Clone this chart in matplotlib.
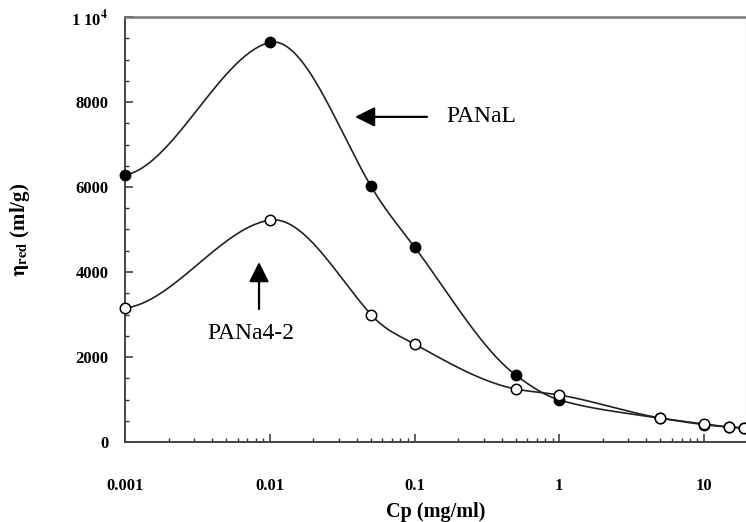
import numpy as np
import matplotlib
matplotlib.use("Agg")
import matplotlib.pyplot as plt
from matplotlib.ticker import FixedLocator, FixedFormatter, LogLocator, NullFormatter, MultipleLocator

# concentration (mg/ml)
cp = [0.001, 0.01, 0.05, 0.1, 0.5, 1, 5, 10, 15, 19]
# reduced viscosity (ml/g)
panal = [6280, 9400, 6020, 4590, 1576, 990, 560, 410, 350, 330]
pana42 = [3150, 5220, 3000, 2306, 1247, 1106, 565, 424, 353, 330]

y_ticks = [0, 2000, 4000, 6000, 8000, 10000]
y_labels = ["0", "2000", "4000", "6000", "8000", r"1 10$^{\mathbf{4}}$"]
x_ticks = [0.001, 0.01, 0.1, 1, 10]
x_labels = ["0.001", "0.01", "0.1", "1", "10"]

plt.rcParams["font.family"] = ["Liberation Serif", "DejaVu Serif"]
plt.rcParams["mathtext.fontset"] = "stix"


def smooth(x, y, n=60):
    # cubic hermite curve in log-x space through the points
    lx = np.log10(np.asarray(x, float))
    y = np.asarray(y, float)
    h = np.diff(lx)
    d = np.diff(y) / h
    m = np.zeros_like(y)
    peak = None
    for i in range(1, len(y) - 1):
        if d[i - 1] * d[i] > 0:
            w1 = 2 * h[i] + h[i - 1]
            w2 = h[i] + 2 * h[i - 1]
            m[i] = (w1 + w2) / (w1 / d[i - 1] + w2 / d[i])
        else:
            m[i] = 0.25 * d[i - 1]
            peak = i
    if peak is not None:
        # slightly steeper shoulder just after the hump
        m[peak + 1] = 1.2 * d[peak]
    m[0] = 0.2 * d[0]
    m[-1] = d[-1]
    xs, ys = [], []
    for i in range(len(h)):
        t = np.linspace(0, 1, n)
        h00 = 2 * t**3 - 3 * t**2 + 1
        h10 = t**3 - 2 * t**2 + t
        h01 = -2 * t**3 + 3 * t**2
        h11 = t**3 - t**2
        xs.append(lx[i] + t * h[i])
        ys.append(h00 * y[i] + h10 * h[i] * m[i] + h01 * y[i + 1] + h11 * h[i] * m[i + 1])
    return 10 ** np.concatenate(xs), np.concatenate(ys)


fig = plt.figure(figsize=(7.46, 5.22), dpi=100)
ax = fig.add_axes([125 / 746, 80 / 522, (746 - 125) / 746, (442 - 17) / 522])

line_c = "#222222"
sx, sy = smooth(cp, panal)
ax.plot(sx, sy, color=line_c, lw=1.2, zorder=2)
sx, sy = smooth(cp, pana42)
ax.plot(sx, sy, color=line_c, lw=1.2, zorder=2)

ax.plot(cp, panal, "o", ms=7.5, mfc="black", mec="black", zorder=3, clip_on=False)
ax.plot(cp, pana42, "o", ms=7.5, mfc="white", mec="black", mew=1.1, zorder=4, clip_on=False)

ax.set_xscale("log")
ax.set_xlim(0.001, 10 ** ((746 - 125) / 144.75 - 3))
ax.set_ylim(0, 10000)

ax.xaxis.set_major_locator(FixedLocator(x_ticks))
ax.xaxis.set_major_formatter(FixedFormatter(x_labels))
ax.xaxis.set_minor_locator(LogLocator(base=10, subs=np.arange(2, 10)))
ax.xaxis.set_minor_formatter(NullFormatter())
ax.yaxis.set_major_locator(FixedLocator(y_ticks))
ax.yaxis.set_major_formatter(FixedFormatter(y_labels))
ax.yaxis.set_minor_locator(MultipleLocator(500))

ax.tick_params(axis="x", which="major", direction="in", length=6, width=1.1, pad=26,
               labelsize=12, colors="#333333", labelcolor="black")
ax.tick_params(axis="x", which="minor", direction="in", length=3, width=1.0, colors="#333333")
ax.tick_params(axis="y", which="major", direction="in", length=6, width=1.1, pad=12,
               labelsize=12, colors="#333333", labelcolor="black")
ax.tick_params(axis="y", which="minor", direction="in", length=3, width=1.0, colors="#333333")
for lab in ax.get_xticklabels() + ax.get_yticklabels():
    lab.set_fontweight("bold")

for side in ["left", "bottom"]:
    ax.spines[side].set_color("#444444")
    ax.spines[side].set_linewidth(1.4)
ax.spines["top"].set_color("#777777")
ax.spines["top"].set_linewidth(1.8)
ax.spines["right"].set_color("#cccccc")
ax.spines["right"].set_linewidth(1.0)

ax.set_xlabel("Cp (mg/ml)", fontsize=14.5, fontweight="bold", labelpad=6)
ax.set_ylabel(r"$\mathbf{\eta}_{\mathbf{red}}$ (ml/g)", fontsize=15, fontweight="bold", labelpad=28)

arrow = dict(arrowstyle="-|>,head_length=0.6,head_width=0.3", color="black", lw=1.6,
             mutation_scale=20, shrinkA=0, shrinkB=0)
ax.annotate("", xy=(0.0388, 7650), xytext=(0.122, 7650), arrowprops=arrow)
ax.text(0.165, 7650, "PANaL", fontsize=17, ha="left", va="center")
ax.annotate("", xy=(0.00843, 4235), xytext=(0.00843, 3130), arrowprops=arrow)
ax.text(0.00742, 2560, "PANa4-2", fontsize=17, ha="center", va="center")

fig.savefig("out.png", dpi=100)
